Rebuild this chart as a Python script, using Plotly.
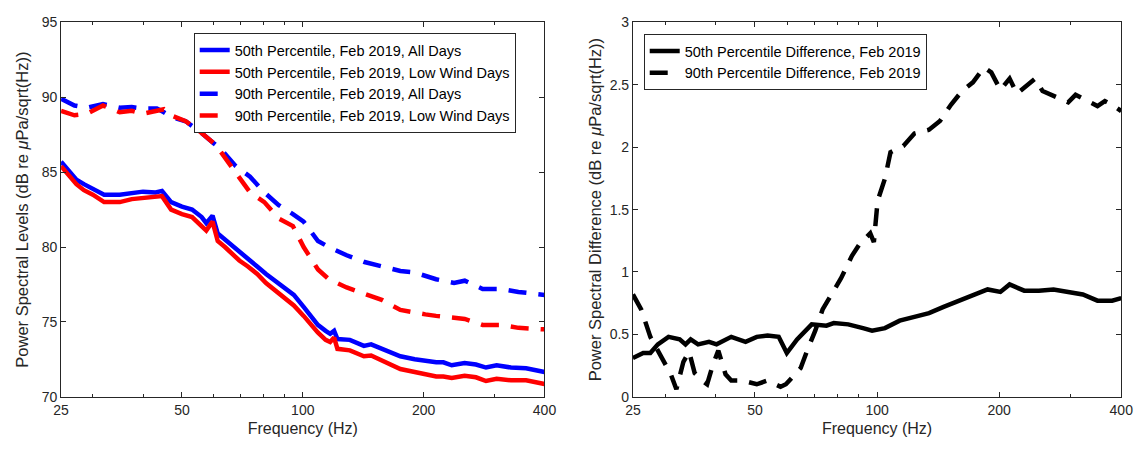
import plotly.graph_objects as go

# ---------------- data ----------------
freq50 = [25, 26, 27.3, 28.5, 30, 32, 35, 37.5, 40, 43, 44.6, 47, 50, 53, 56, 57.5, 59.6, 61.4, 64,
          69.5, 73, 77, 81, 90.7, 95, 100.5, 105, 109, 114, 117, 119.7, 122, 131, 142, 148, 160,
          175, 190, 200, 215, 224, 235, 253, 270, 286, 304, 330, 360, 400]
p50_all = [85.7, 85.2, 84.5, 84.2, 83.9, 83.5, 83.5, 83.6, 83.7, 83.65, 83.75, 83.0, 82.7, 82.5, 82.0,
           81.6, 82.1, 80.9, 80.5, 79.7, 79.3, 78.7, 78.2, 77.2, 76.8, 76.0, 75.3, 74.8, 74.4, 74.2,
           74.4, 73.85, 73.8, 73.4, 73.5, 73.1, 72.7, 72.5, 72.4, 72.3, 72.3, 72.1, 72.25, 72.15,
           71.95, 72.1, 71.95, 71.9, 71.65]
p50_low = [85.4, 84.9, 84.2, 83.8, 83.5, 83.0, 83.0, 83.2, 83.25, 83.3, 83.4, 82.5, 82.2, 82.0, 81.4,
           81.1, 81.7, 80.4, 80.0, 79.1, 78.7, 78.2, 77.6, 76.55, 76.1, 75.4, 74.8, 74.3, 73.8, 73.65,
           73.95, 73.2, 73.1, 72.7, 72.75, 72.3, 71.85, 71.65, 71.5, 71.35, 71.35, 71.25, 71.4, 71.3,
           71.05, 71.2, 71.1, 71.1, 70.85]

freq90 = [25, 27, 29, 31.8, 35, 37.5, 40, 43.3, 45.1, 47, 51.1, 55.5, 60.2, 62.7, 68.1, 73.9, 80.2,
          87.1, 94.5, 100.5, 109.1, 116.1, 128.6, 142.5, 157.9, 175, 189.9, 202, 214.8, 238.1, 253.2,
          280.5, 310.8, 344.5, 400]
p90_all = [89.9, 89.45, 89.3, 89.55, 89.3, 89.35, 89.25, 89.25, 89.0, 88.7, 88.4, 87.7, 86.9, 86.5,
           85.4, 84.7, 83.65, 82.8, 82.2, 81.7, 80.4, 80.0, 79.45, 79.0, 78.7, 78.4, 78.3, 78.1, 77.85,
           77.6, 77.75, 77.2, 77.2, 77.0, 76.8]
p90_low = [89.1, 88.8, 88.9, 89.45, 89.0, 89.1, 88.9, 89.1, 89.2, 88.8, 88.4, 87.7, 86.9, 86.3,
           84.95, 83.65, 83.0, 81.9, 81.4, 80.0, 78.5, 77.85, 77.3, 76.9, 76.45, 75.8, 75.6, 75.5,
           75.4, 75.25, 75.2, 74.8, 74.8, 74.6, 74.5]

freq_d50 = [25, 26.5, 27.6, 28.8, 30.6, 32.6, 33.7, 34.7, 36.2, 38.5, 40.2, 43.7, 47.4, 50.5, 53.7,
            57.2, 59.9, 63.5, 69.0, 75.0, 78.2, 84.9, 92.3, 97.2, 104.6, 113.7, 123.6, 134.3, 145.9,
            158.6, 172.3, 187.3, 201.4, 212.2, 230.6, 250.6, 272.3, 296.0, 321.6, 349.5, 379.9, 400]
diff50 = [0.31, 0.35, 0.35, 0.42, 0.48, 0.46, 0.42, 0.46, 0.42, 0.44, 0.42, 0.48, 0.44, 0.48, 0.49,
          0.48, 0.35, 0.46, 0.58, 0.57, 0.59, 0.58, 0.55, 0.53, 0.55, 0.61, 0.64, 0.67, 0.72, 0.77,
          0.81, 0.86, 0.84, 0.90, 0.85, 0.85, 0.86, 0.84, 0.82, 0.77, 0.77, 0.79]

freq_d90 = [25, 26.2, 27.6, 29.4, 31.0, 32.0, 33.3, 34.4, 35.5, 37.0, 38.1, 39.4, 40.6, 42.3, 43.7,
            46.5, 50.5, 53.7, 57.8, 59.6, 64.8, 67.6, 70.4, 73.4, 76.5, 81.5, 86.7, 90.4, 96.2, 98.2,
            100.3, 104.6, 107.9, 116.1, 123.6, 134.3, 142.9, 152.1, 161.9, 172.3, 183.5, 191.2,
            201.4, 212.2, 221.2, 235.4, 245.4, 255.9, 272.3, 296.0, 308.6, 328.4, 349.5, 364.4,
            379.9, 400]
diff90 = [0.82, 0.70, 0.48, 0.31, 0.18, 0.06, 0.28, 0.36, 0.19, 0.13, 0.10, 0.26, 0.37, 0.18, 0.13,
          0.13, 0.10, 0.13, 0.08, 0.10, 0.23, 0.39, 0.53, 0.70, 0.80, 0.95, 1.13, 1.22, 1.31, 1.24,
          1.57, 1.75, 1.96, 2.01, 2.11, 2.14, 2.21, 2.34, 2.45, 2.52, 2.64, 2.60, 2.46, 2.55, 2.43,
          2.50, 2.55, 2.45, 2.41, 2.36, 2.42, 2.37, 2.33, 2.37, 2.34, 2.29]

x_ticks = [25, 50, 100, 200, 400]
x_minor = [30, 40, 60, 70, 80, 90, 300]
y1_ticks = [70, 75, 80, 85, 90, 95]
y2_ticks = [0, 0.5, 1, 1.5, 2, 2.5, 3]
y2_labels = ["0", "0.5", "1", "1.5", "2", "2.5", "3"]

# ---------------- figure ----------------
FONT = "Liberation Sans, Arial, sans-serif"
INK = "#262626"
DASH = "18px,12px"
LW = 4.5

fig = go.Figure()
fig.add_trace(go.Scatter(x=freq50, y=p50_all, mode="lines", name="50th Percentile, Feb 2019, All Days",
                         line=dict(color="#0000ff", width=LW), xaxis="x", yaxis="y", legend="legend"))
fig.add_trace(go.Scatter(x=freq50, y=p50_low, mode="lines", name="50th Percentile, Feb 2019, Low Wind Days",
                         line=dict(color="#ff0000", width=LW), xaxis="x", yaxis="y", legend="legend"))
fig.add_trace(go.Scatter(x=freq90, y=p90_all, mode="lines", name="90th Percentile, Feb 2019, All Days",
                         line=dict(color="#0000ff", width=LW, dash=DASH), xaxis="x", yaxis="y", legend="legend"))
fig.add_trace(go.Scatter(x=freq90, y=p90_low, mode="lines", name="90th Percentile, Feb 2019, Low Wind Days",
                         line=dict(color="#ff0000", width=LW, dash=DASH), xaxis="x", yaxis="y", legend="legend"))
fig.add_trace(go.Scatter(x=freq_d50, y=diff50, mode="lines", name="50th Percentile Difference, Feb 2019",
                         line=dict(color="#000000", width=LW), xaxis="x2", yaxis="y2", legend="legend2"))
fig.add_trace(go.Scatter(x=freq_d90, y=diff90, mode="lines", name="90th Percentile Difference, Feb 2019",
                         line=dict(color="#000000", width=LW, dash=DASH), xaxis="x2", yaxis="y2", legend="legend2"))

W, H = 1147, 452
left_dom = [54 / W, 546 / W]
right_dom = [636 / W, 1133 / W]
y_dom = [1 - 403 / H, 1 - 15 / H]

def xaxis_cfg(domain, anchor):
    return dict(type="log", domain=domain, anchor=anchor, range=[1.39794, 2.60206],
                tickvals=x_ticks, ticktext=[str(v) for v in x_ticks],
                ticks="inside", ticklen=5, tickwidth=1, tickcolor=INK,
                minor=dict(tickvals=x_minor, ticks="inside", ticklen=3, tickcolor=INK),
                showline=True, linecolor=INK, linewidth=1, mirror="ticks",
                showgrid=False, zeroline=False,
                tickfont=dict(family=FONT, size=14, color=INK),
                title=dict(text="Frequency (Hz)", font=dict(family=FONT, size=16, color=INK), standoff=6))

def yaxis_cfg(domain, anchor, rng, ticks, labels, title, standoff):
    return dict(domain=domain, anchor=anchor, range=rng, tickvals=ticks, ticktext=labels,
                ticks="inside", ticklen=5, tickcolor=INK,
                showline=True, linecolor=INK, linewidth=1, mirror="ticks",
                showgrid=False, zeroline=False,
                tickfont=dict(family=FONT, size=14, color=INK),
                title=dict(text=title, font=dict(family=FONT, size=16.5, color=INK), standoff=standoff))

fig.update_layout(
    width=W, height=H,
    margin=dict(l=0, r=0, t=0, b=0),
    paper_bgcolor="white", plot_bgcolor="white",
    font=dict(family=FONT, color=INK),
    xaxis=xaxis_cfg(left_dom, "y"),
    xaxis2=xaxis_cfg(right_dom, "y2"),
    yaxis=yaxis_cfg(y_dom, "x", [70, 95], y1_ticks, [str(v) for v in y1_ticks],
                    "Power Spectral Levels (dB re <i>μ</i>Pa/sqrt(Hz))", 8),
    yaxis2=yaxis_cfg(y_dom, "x2", [0, 3], y2_ticks, y2_labels,
                     "Power Spectral Difference (dB re <i>μ</i>Pa/sqrt(Hz))", 3),
    legend=dict(x=189 / W, y=1 - 26 / H, xanchor="left", yanchor="top",
                bgcolor="white", bordercolor=INK, borderwidth=1,
                font=dict(family=FONT, size=14.5, color="#000000"),
                tracegroupgap=0, itemwidth=30),
    legend2=dict(x=647 / W, y=1 - 27 / H, xanchor="left", yanchor="top",
                 bgcolor="white", bordercolor=INK, borderwidth=1,
                 font=dict(family=FONT, size=14.5, color="#000000"),
                 tracegroupgap=0, itemwidth=30),
    showlegend=True,
)

fig.write_html("out.html")
